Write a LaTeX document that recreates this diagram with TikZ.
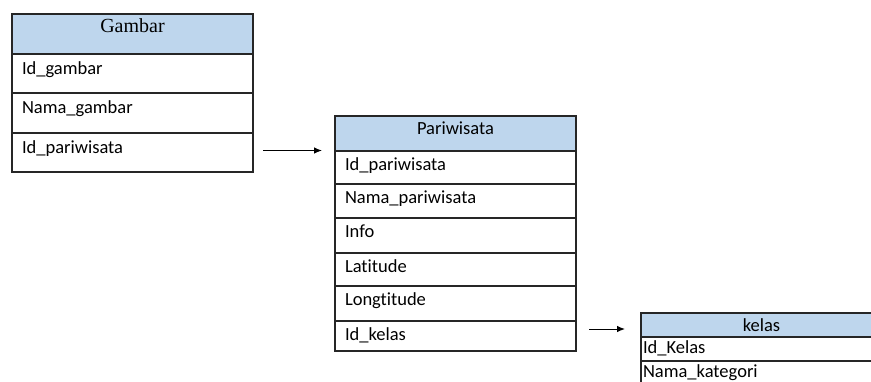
\documentclass[tikz,border=0pt]{standalone}
\usepackage{fontspec}
\newfontfamily\kalibri{Carlito}[Ligatures=CommonOff]
\newfontfamily\serifkop{Liberation Serif}
\usetikzlibrary{positioning}
\usetikzlibrary{arrows.meta}
\definecolor{kepalabiru}{RGB}{190,214,237}
\newcommand{\isibaris}{\kalibri\fontsize{18.5}{22}\selectfont}
\newcommand{\isikop}{\serifkop\fontsize{20}{24}\selectfont}
\tikzset{
  tabel/.style={draw=black!85,line width=1.2pt,rectangle,outer sep=0pt,inner ysep=0pt,inner xsep=10pt,text width=221pt},
  kepala/.style 2 args={tabel,fill=kepalabiru,align=center,font=\isibaris,text height=#2,text depth=#1-#2},
  baris/.style 2 args={tabel,align=left,font=\isibaris,text height=#2,text depth=#1-#2},
  panah/.style={draw=black,line width=1pt,-{Latex[length=8pt,width=6.5pt]}}
}
\begin{document}
\begin{tikzpicture}[x=1pt,y=-1pt]
      \clip (0,0) rectangle (871,381);
      \fill[white] (0,0) rectangle (871,381);
      % Tabel Gambar
      \node[kepala={40pt}{18pt},font=\isikop,anchor=north west] (g0) at (12,14) {Gambar};
      \node[baris={39pt}{20pt},below=0pt of g0] (g1) {Id\_gambar};
      \node[baris={40pt}{20pt},below=0pt of g1] (g2) {Nama\_gambar};
      \node[baris={39pt}{20pt},below=0pt of g2] (g3) {Id\_pariwisata};
      % Tabel Pariwisata
      \node[kepala={35pt}{18pt},anchor=north west] (p0) at (335,116) {Pariwisata};
      \node[baris={33pt}{19pt},below=0pt of p0] (p1) {Id\_pariwisata};
      \node[baris={34pt}{19pt},below=0pt of p1] (p2) {Nama\_pariwisata};
      \node[baris={35pt}{19pt},below=0pt of p2] (p3) {Info};
      \node[baris={33pt}{19pt},below=0pt of p3] (p4) {Latitude};
      \node[baris={35pt}{19pt},below=0pt of p4] (p5) {Longtitude};
      \node[baris={30pt}{19pt},below=0pt of p5] (p6) {Id\_kelas};
      % Tabel kelas
      \node[kepala={24pt}{18pt},anchor=north west] (k0) at (641,313) {kelas};
      \node[baris={24pt}{16pt},inner xsep=2pt,text width=237pt,below=0pt of k0] (k1) {Id\_Kelas};
      \node[baris={24pt}{16pt},inner xsep=2pt,text width=237pt,below=0pt of k1] (k2) {Nama\_kategori};
      % Relasi
      \draw[panah] ([xshift=10pt,yshift=2pt]g3.east) -- ([xshift=-13pt,yshift=2pt]g3.east -| p1.west);
      \draw[panah] ([xshift=13pt,yshift=7pt]p6.east) -- ([xshift=-16pt,yshift=7pt]p6.east -| k1.west);
\end{tikzpicture}
\end{document}
